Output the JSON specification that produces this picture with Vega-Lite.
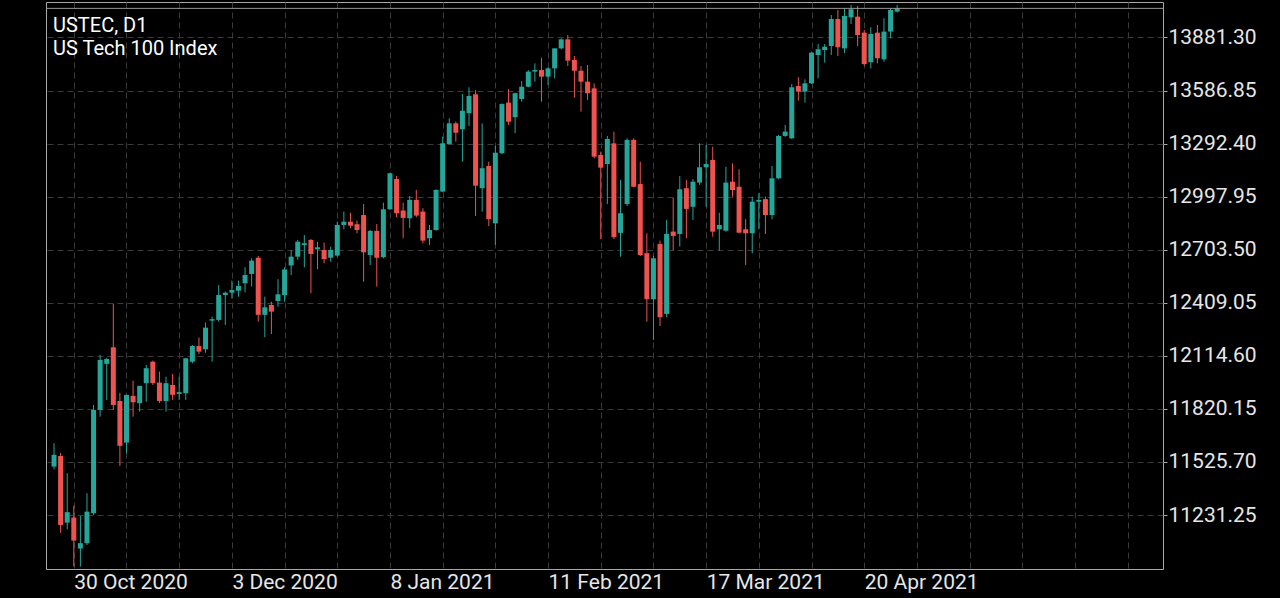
{
  "$schema": "https://vega.github.io/schema/vega-lite/v6.json",
  "width": 1117,
  "height": 567,
  "autosize": {"type": "none"},
  "padding": {"left": 46, "top": 2, "right": 117, "bottom": 29},
  "background": "#000000",
  "config": {
    "view": {"stroke": "#a8a8a8", "strokeWidth": 1},
    "font": "Roboto"
  },
  "title": {
    "text": ["USTEC, D1", "US Tech 100 Index"],
    "anchor": "start",
    "frame": "group",
    "orient": "top",
    "offset": -57,
    "baseline": "top",
    "dx": 7,
    "color": "#ffffff",
    "font": "Roboto",
    "fontSize": 20,
    "fontWeight": "normal",
    "lineHeight": 23
  },
  "data": {
    "values": [
      {"i":0,"o":11500,"h":11630,"l":11485,"c":11565},
      {"i":1,"o":11559,"h":11576,"l":11132,"c":11176},
      {"i":2,"o":11189,"h":11463,"l":11152,"c":11247},
      {"i":3,"o":11217,"h":11283,"l":10945,"c":11089},
      {"i":4,"o":11045,"h":11226,"l":10945,"c":11075},
      {"i":5,"o":11075,"h":11352,"l":11065,"c":11250},
      {"i":6,"o":11241,"h":11842,"l":11232,"c":11814},
      {"i":7,"o":11814,"h":12120,"l":11777,"c":12092},
      {"i":8,"o":12070,"h":12103,"l":11870,"c":12097},
      {"i":9,"o":12162,"h":12403,"l":11814,"c":11842},
      {"i":10,"o":11864,"h":11909,"l":11504,"c":11615},
      {"i":11,"o":11633,"h":11898,"l":11576,"c":11898},
      {"i":12,"o":11892,"h":11977,"l":11777,"c":11857},
      {"i":13,"o":11852,"h":11948,"l":11805,"c":11948},
      {"i":14,"o":11963,"h":12064,"l":11860,"c":12046},
      {"i":15,"o":12082,"h":12088,"l":11953,"c":11963},
      {"i":16,"o":11966,"h":12027,"l":11852,"c":11864},
      {"i":17,"o":11864,"h":11999,"l":11805,"c":11963},
      {"i":18,"o":11953,"h":12014,"l":11870,"c":11898},
      {"i":19,"o":11903,"h":11999,"l":11870,"c":11913},
      {"i":20,"o":11907,"h":12103,"l":11870,"c":12101},
      {"i":21,"o":12082,"h":12175,"l":12073,"c":12169},
      {"i":22,"o":12169,"h":12216,"l":12125,"c":12138},
      {"i":23,"o":12151,"h":12299,"l":12132,"c":12271},
      {"i":24,"o":12310,"h":12332,"l":12082,"c":12318},
      {"i":25,"o":12314,"h":12508,"l":12304,"c":12452},
      {"i":26,"o":12452,"h":12471,"l":12286,"c":12465},
      {"i":27,"o":12465,"h":12532,"l":12434,"c":12480},
      {"i":28,"o":12476,"h":12532,"l":12443,"c":12502},
      {"i":29,"o":12517,"h":12606,"l":12467,"c":12563},
      {"i":30,"o":12569,"h":12656,"l":12499,"c":12643},
      {"i":31,"o":12659,"h":12669,"l":12304,"c":12342},
      {"i":32,"o":12342,"h":12443,"l":12218,"c":12384},
      {"i":33,"o":12397,"h":12415,"l":12236,"c":12360},
      {"i":34,"o":12419,"h":12540,"l":12388,"c":12456},
      {"i":35,"o":12452,"h":12606,"l":12415,"c":12594},
      {"i":36,"o":12616,"h":12702,"l":12563,"c":12665},
      {"i":37,"o":12665,"h":12758,"l":12647,"c":12748},
      {"i":38,"o":12730,"h":12785,"l":12606,"c":12739},
      {"i":39,"o":12758,"h":12763,"l":12462,"c":12680},
      {"i":40,"o":12706,"h":12748,"l":12595,"c":12717},
      {"i":41,"o":12702,"h":12743,"l":12628,"c":12652},
      {"i":42,"o":12659,"h":12721,"l":12637,"c":12702},
      {"i":43,"o":12671,"h":12859,"l":12665,"c":12841},
      {"i":44,"o":12841,"h":12915,"l":12817,"c":12859},
      {"i":45,"o":12859,"h":12909,"l":12823,"c":12837},
      {"i":46,"o":12845,"h":12865,"l":12795,"c":12813},
      {"i":47,"o":12896,"h":12957,"l":12526,"c":12689},
      {"i":48,"o":12674,"h":12813,"l":12619,"c":12808},
      {"i":49,"o":12808,"h":12846,"l":12499,"c":12659},
      {"i":50,"o":12662,"h":12965,"l":12656,"c":12928},
      {"i":51,"o":12928,"h":13131,"l":12924,"c":13128},
      {"i":52,"o":13096,"h":13113,"l":12884,"c":12906},
      {"i":53,"o":12921,"h":12965,"l":12767,"c":12880},
      {"i":54,"o":12878,"h":13002,"l":12823,"c":12980},
      {"i":55,"o":12980,"h":13035,"l":12884,"c":12893},
      {"i":56,"o":12915,"h":12934,"l":12739,"c":12754},
      {"i":57,"o":12767,"h":12841,"l":12730,"c":12813},
      {"i":58,"o":12813,"h":13039,"l":12809,"c":13035},
      {"i":59,"o":13026,"h":13331,"l":13022,"c":13294},
      {"i":60,"o":13290,"h":13433,"l":13289,"c":13405},
      {"i":61,"o":13405,"h":13414,"l":13303,"c":13353},
      {"i":62,"o":13372,"h":13568,"l":13192,"c":13475},
      {"i":63,"o":13461,"h":13605,"l":13390,"c":13557},
      {"i":64,"o":13566,"h":13590,"l":12891,"c":13059},
      {"i":65,"o":13045,"h":13405,"l":12915,"c":13156},
      {"i":66,"o":13168,"h":13192,"l":12835,"c":12873},
      {"i":67,"o":12850,"h":13279,"l":12730,"c":13242},
      {"i":68,"o":13239,"h":13516,"l":13235,"c":13512},
      {"i":69,"o":13520,"h":13594,"l":13396,"c":13414},
      {"i":70,"o":13439,"h":13575,"l":13350,"c":13572},
      {"i":71,"o":13540,"h":13640,"l":13525,"c":13608},
      {"i":72,"o":13608,"h":13701,"l":13605,"c":13692},
      {"i":73,"o":13692,"h":13738,"l":13636,"c":13701},
      {"i":74,"o":13701,"h":13769,"l":13525,"c":13664},
      {"i":75,"o":13664,"h":13716,"l":13618,"c":13710},
      {"i":76,"o":13710,"h":13821,"l":13655,"c":13821},
      {"i":77,"o":13821,"h":13877,"l":13816,"c":13871},
      {"i":78,"o":13871,"h":13895,"l":13723,"c":13753},
      {"i":79,"o":13757,"h":13779,"l":13547,"c":13697},
      {"i":80,"o":13697,"h":13723,"l":13470,"c":13636},
      {"i":81,"o":13636,"h":13729,"l":13535,"c":13572},
      {"i":82,"o":13599,"h":13627,"l":13211,"c":13220},
      {"i":83,"o":13229,"h":13248,"l":12762,"c":13159},
      {"i":84,"o":13179,"h":13335,"l":12957,"c":13318},
      {"i":85,"o":13294,"h":13359,"l":12762,"c":12773},
      {"i":86,"o":12797,"h":13091,"l":12665,"c":12906},
      {"i":87,"o":12957,"h":13322,"l":12946,"c":13313},
      {"i":88,"o":13313,"h":13322,"l":13050,"c":13053},
      {"i":89,"o":13068,"h":13192,"l":12669,"c":12674},
      {"i":90,"o":12684,"h":12795,"l":12304,"c":12429},
      {"i":91,"o":12429,"h":12669,"l":12203,"c":12656},
      {"i":92,"o":12735,"h":12754,"l":12280,"c":12329},
      {"i":93,"o":12347,"h":12869,"l":12329,"c":12791},
      {"i":94,"o":12804,"h":12992,"l":12698,"c":12780},
      {"i":95,"o":12791,"h":13113,"l":12721,"c":13039},
      {"i":96,"o":13045,"h":13091,"l":12767,"c":12930},
      {"i":97,"o":12942,"h":13095,"l":12869,"c":13081},
      {"i":98,"o":13076,"h":13294,"l":13063,"c":13161},
      {"i":99,"o":13161,"h":13285,"l":12942,"c":13179},
      {"i":100,"o":13202,"h":13275,"l":12776,"c":12804},
      {"i":101,"o":12817,"h":12909,"l":12698,"c":12841},
      {"i":102,"o":12809,"h":13164,"l":12804,"c":13076},
      {"i":103,"o":13081,"h":13183,"l":12998,"c":13035},
      {"i":104,"o":13053,"h":13150,"l":12795,"c":12798},
      {"i":105,"o":12817,"h":12873,"l":12619,"c":12795},
      {"i":106,"o":12795,"h":12998,"l":12684,"c":12970},
      {"i":107,"o":12970,"h":13017,"l":12817,"c":12980},
      {"i":108,"o":12984,"h":12998,"l":12791,"c":12896},
      {"i":109,"o":12896,"h":13168,"l":12873,"c":13100},
      {"i":110,"o":13100,"h":13340,"l":13095,"c":13335},
      {"i":111,"o":13335,"h":13396,"l":13330,"c":13359},
      {"i":112,"o":13322,"h":13623,"l":13318,"c":13605},
      {"i":113,"o":13612,"h":13661,"l":13531,"c":13581},
      {"i":114,"o":13581,"h":13649,"l":13520,"c":13627},
      {"i":115,"o":13627,"h":13803,"l":13623,"c":13797},
      {"i":116,"o":13784,"h":13845,"l":13655,"c":13816},
      {"i":117,"o":13812,"h":13845,"l":13742,"c":13830},
      {"i":118,"o":13834,"h":14006,"l":13784,"c":13984},
      {"i":119,"o":13984,"h":14034,"l":13779,"c":13827},
      {"i":120,"o":13821,"h":14043,"l":13794,"c":14001},
      {"i":121,"o":13993,"h":14062,"l":13956,"c":14038},
      {"i":122,"o":13997,"h":14056,"l":13834,"c":13895},
      {"i":123,"o":13908,"h":13923,"l":13725,"c":13734},
      {"i":124,"o":13744,"h":13938,"l":13710,"c":13901},
      {"i":125,"o":13908,"h":13951,"l":13738,"c":13766},
      {"i":126,"o":13760,"h":13988,"l":13747,"c":13914},
      {"i":127,"o":13914,"h":14043,"l":13877,"c":14034},
      {"i":128,"o":14025,"h":14062,"l":14020,"c":14043}
    ]
  },
  "layer": [
    {
      "mark": {"type": "rule", "strokeWidth": 1},
      "encoding": {
        "x": {
          "field": "i",
          "type": "quantitative",
          "scale": {"domain": [-0.46, 167.6], "nice": false, "zero": false},
          "axis": {
            "title": null,
            "values": [3,11,19,27,35,43,51,59,67,75,83,91,99,107,115,123,131,139,147,155,163],
            "labelExpr": "datum.value == 3 ? '30 Oct 2020' : datum.value == 27 ? '3 Dec 2020' : datum.value == 51 ? '8 Jan 2021' : datum.value == 75 ? '11 Feb 2021' : datum.value == 99 ? '17 Mar 2021' : datum.value == 123 ? '20 Apr 2021' : ''",
            "labelAlign": "left",
            "labelOverlap": false,
            "labelBound": false,
            "labelFlush": false,
            "labelColor": "#e6e6e6",
            "labelFont": "Roboto",
            "labelFontSize": 21,
            "labelPadding": 2,
            "domain": false,
            "ticks": false,
            "grid": true,
            "gridColor": "#3a3a3a",
            "gridDash": [6, 4],
            "gridWidth": 1
          }
        },
        "y": {
          "field": "l",
          "type": "quantitative",
          "scale": {"domain": [10931.6, 14078.3], "nice": false, "zero": false},
          "axis": {
            "title": null,
            "orient": "right",
            "values": [11231.25, 11525.70, 11820.15, 12114.60, 12409.05, 12703.50, 12997.95, 13292.40, 13586.85, 13881.30],
            "format": ".2f",
            "labelColor": "#e6e6e6",
            "labelFont": "Roboto",
            "labelFontSize": 21,
            "labelPadding": 1,
            "domain": false,
            "ticks": true,
            "tickSize": 4,
            "tickColor": "#a8a8a8",
            "grid": true,
            "gridColor": "#3a3a3a",
            "gridDash": [6, 4],
            "gridWidth": 1
          }
        },
        "y2": {"field": "h"},
        "color": {
          "condition": {"test": "datum.c >= datum.o", "value": "#26a69a"},
          "value": "#ef5350"
        }
      }
    },
    {
      "mark": {"type": "bar", "width": 5},
      "encoding": {
        "x": {"field": "i", "type": "quantitative"},
        "y": {"field": "o", "type": "quantitative"},
        "y2": {"field": "c"},
        "color": {
          "condition": {"test": "datum.c >= datum.o", "value": "#26a69a"},
          "value": "#ef5350"
        }
      }
    },
    {
      "data": {"values": [{"last": 14043}]},
      "mark": {"type": "rule", "color": "#9a9a9a", "strokeWidth": 1},
      "encoding": {
        "y": {"field": "last", "type": "quantitative"}
      }
    }
  ]
}
